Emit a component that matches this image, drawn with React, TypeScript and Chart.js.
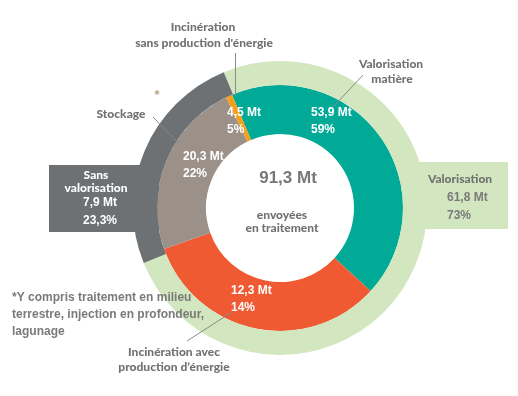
import React, { useEffect, useRef } from "react";
import { Chart, registerables } from "chart.js";

Chart.register(...registerables);

// ---- data ----
const outerLabels = ["Valorisation", "Sans valorisation"];
const outerArcDegrees = [270.5, 89.5]; // visual share of the outer ring
const outerTonnes = ["61,8 Mt", "7,9 Mt"];
const outerShares = ["73%", "23,3%"];

const innerLabels = [
  "Valorisation matière",
  "Incinération avec production d’énergie",
  "Stockage",
  "Incinération sans production d’énergie",
];
const innerArcDegrees = [155.5, 118, 83.5, 3]; // visual share of the inner ring
const innerTonnes = ["53,9 Mt", "12,3 Mt", "20,3 Mt", "4,5 Mt"];
const innerShares = ["59%", "14%", "22%", "5%"];

const totalTonnes = "91,3 Mt";
const totalCaption = ["envoyées", "en traitement"];
const footnote = ["*Y compris traitement en milieu", "terrestre, injection en profondeur,", "lagunage"];

// ---- styles ----
const outerColors = ["#d2e6bf", "#6e7174"];
const innerColors = ["#00aa96", "#f05a33", "#9b9188", "#f5a01a"];
const GREY_TEXT = "#727272";
const TITLE_FONT = "900 12px Lato";
const NUM_FONT = 'bold 12px "Liberation Sans"';

export default function App() {
  const ref = useRef<HTMLCanvasElement | null>(null);

  useEffect(() => {
    if (!ref.current) return;

    const annot = {
      id: "annot",
      beforeDatasetsDraw(chart: any) {
        const ctx = chart.ctx as CanvasRenderingContext2D;
        ctx.save();
        ctx.fillStyle = outerColors[1];
        ctx.fillRect(49, 165, 110, 67);
        ctx.fillStyle = outerColors[0];
        ctx.fillRect(400, 162, 108, 67);
        ctx.restore();
      },
      afterDraw(chart: any) {
        const ctx = chart.ctx as CanvasRenderingContext2D;
        ctx.save();
        ctx.textBaseline = "middle";
        const t = (s: string, x: number, y: number, font: string, color: string, align: CanvasTextAlign = "center") => {
          ctx.font = font;
          ctx.fillStyle = color;
          ctx.textAlign = align;
          ctx.fillText(s, x, y);
        };
        const line = (x1: number, y1: number, x2: number, y2: number) => {
          ctx.beginPath();
          ctx.strokeStyle = "#8a8a8a";
          ctx.lineWidth = 1;
          ctx.moveTo(x1, y1);
          ctx.lineTo(x2, y2);
          ctx.stroke();
        };
        // leader lines
        line(235.5, 53, 235.5, 96);
        line(153, 117, 178, 143);
        line(363, 75, 333, 107);
        line(187, 341, 232, 312);

        // titles
        t("Incinération", 203, 27, TITLE_FONT, GREY_TEXT);
        t("sans production d'énergie", 204, 43, TITLE_FONT, GREY_TEXT);
        t("Stockage", 121, 114, TITLE_FONT, GREY_TEXT);
        t("*", 157, 95, 'bold 13px "Liberation Sans"', "#b4a482");
        t("Valorisation", 391, 64, TITLE_FONT, GREY_TEXT);
        t("matière", 392, 79, TITLE_FONT, GREY_TEXT);
        t("Incinération avec", 174, 352, TITLE_FONT, GREY_TEXT);
        t("production d’énergie", 174, 367, TITLE_FONT, GREY_TEXT);

        // inner ring values
        t(innerTonnes[0], 311, 113, NUM_FONT, "#fff", "left");
        t(innerShares[0], 311, 130, NUM_FONT, "#fff", "left");
        t(innerTonnes[1], 231, 291, NUM_FONT, "#fff", "left");
        t(innerShares[1], 231, 308, NUM_FONT, "#fff", "left");
        t(innerTonnes[2], 183, 157, NUM_FONT, "#fff", "left");
        t(innerShares[2], 183, 174, NUM_FONT, "#fff", "left");
        t(innerTonnes[3], 227, 113, NUM_FONT, "#fff", "left");
        t(innerShares[3], 227, 130, NUM_FONT, "#fff", "left");

        // outer boxes
        t("Sans", 96, 175, TITLE_FONT, "#fff");
        t("valorisation", 96, 188, TITLE_FONT, "#fff");
        t(outerTonnes[1], 83, 203, NUM_FONT, "#fff", "left");
        t(outerShares[1], 83, 221, NUM_FONT, "#fff", "left");
        t(outerLabels[0], 460, 179, TITLE_FONT, GREY_TEXT);
        t(outerTonnes[0], 447, 198, NUM_FONT, "#7a7a7a", "left");
        t(outerShares[0], 447, 216, NUM_FONT, "#7a7a7a", "left");

        // center
        t(totalTonnes, 288, 178, 'bold 17px "Liberation Sans"', "#777777");
        t(totalCaption[0], 282, 215, TITLE_FONT, GREY_TEXT);
        t(totalCaption[1], 282, 228, TITLE_FONT, GREY_TEXT);

        // footnote
        footnote.forEach((s, i) => t(s, 12, 298 + i * 17, NUM_FONT, "#7a7a7a", "left"));
        ctx.restore();
      },
    };

    const chart = new Chart(ref.current, {
      type: "doughnut",
      data: {
        labels: innerLabels,
        datasets: [
          {
            label: "outer",
            data: outerArcDegrees,
            backgroundColor: outerColors,
            borderWidth: 0,
            weight: 24,
            rotation: -22.5,
          } as any,
          {
            label: "inner",
            data: innerArcDegrees,
            backgroundColor: innerColors,
            borderWidth: 0,
            weight: 49,
            rotation: -23,
          } as any,
        ],
      },
      options: {
        animation: false,
        responsive: false,
        devicePixelRatio: 1,
        cutout: 74,
        layout: { padding: { left: 133, right: 91, top: 61, bottom: 41 } },
        plugins: { legend: { display: false }, tooltip: { enabled: false } },
      } as any,
      plugins: [annot],
    });
    return () => chart.destroy();
  }, []);

  return (
    <div style={{ position: "fixed", left: 0, top: 0, width: 518, height: 396, background: "#fff" }}>
      <canvas ref={ref} width={518} height={396} style={{ display: "block" }} />
    </div>
  );
}
